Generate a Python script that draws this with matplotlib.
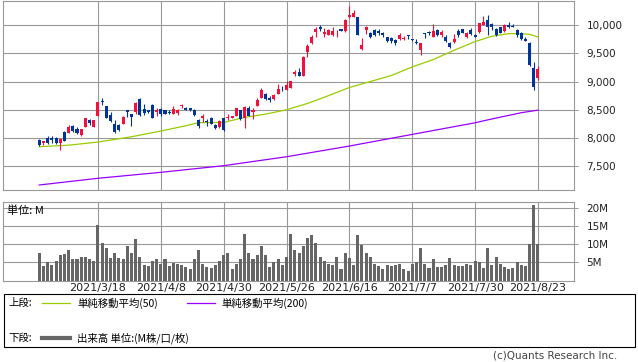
import matplotlib
matplotlib.use('Agg')
import matplotlib.pyplot as plt
from matplotlib.patches import Rectangle
from matplotlib.ticker import FuncFormatter

# fonts: DejaVu for digits, CJK fallback for the japanese labels
plt.rcParams['font.family'] = ['DejaVu Sans', 'Noto Sans CJK JP']
jp_font = ['Noto Sans CJK JP', 'DejaVu Sans']

# ---- data (daily candles, 120 sessions) ----
opens = [7963, 7904, 7998, 7992, 7998, 7904, 8103, 8091, 8208, 8161,
         8045, 8196, 8325, 8196, 8383, 8645, 8558, 8407, 8243, 8231,
         8255, 8488, 8418, 8453, 8699, 8512, 8488, 8582, 8465, 8512,
         8488, 8465, 8430, 8442, 8575, 8535, 8523, 8500, 8313, 8360,
         8301, 8354, 8230, 8195, 8348, 8360, 8360, 8395, 8490, 8348,
         8525, 8466, 8572, 8702, 8773, 8714, 8690, 8785, 8891, 8855,
         8891, 9139, 9162, 9103, 9528, 9693, 9882, 9964, 9846, 9834,
         9835, 9876, 9929, 9905, 10142, 10153, 10142, 9587, 9917, 9869,
         9917, 9905, 9869, 9786, 9774, 9738, 9750, 9750, 9821, 9750,
         9702, 9560, 9857, 9881, 9798, 9917, 9821, 9798, 9690, 9702,
         9905, 9929, 9786, 9917, 9833, 9881, 10012, 10095, 10024, 9941,
         9964, 9905, 10012, 9982, 9917, 9869, 9762, 9690, 9238, 9072]
highs = [7980, 7951, 8033, 8033, 8021, 7998, 8126, 8220, 8231, 8185,
         8160, 8360, 8336, 8325, 8645, 8710, 8570, 8465, 8313, 8243,
         8383, 8500, 8430, 8640, 8710, 8605, 8500, 8594, 8535, 8523,
         8500, 8488, 8558, 8512, 8605, 8547, 8535, 8512, 8336, 8431,
         8336, 8372, 8242, 8325, 8360, 8431, 8390, 8535, 8500, 8572,
         8560, 8537, 8702, 8879, 8796, 8737, 8785, 8962, 8914, 9009,
         9015, 9209, 9245, 9450, 9670, 9835, 9964, 10000, 9953, 9935,
         9964, 9917, 9941, 10106, 10342, 10271, 10150, 9776, 9988, 9881,
         9929, 9929, 9881, 9798, 9798, 9750, 9857, 9810, 9833, 9762,
         9750, 9690, 9869, 9905, 10024, 9941, 9917, 9821, 9702, 9845,
         9929, 9941, 9881, 9952, 9845, 10048, 10167, 10178, 10036, 9952,
         9976, 10024, 10060, 10024, 9929, 9881, 9786, 9702, 9345, 9286]
lows = [7852, 7869, 7893, 7916, 7893, 7788, 7939, 8080, 8103, 8068,
        8040, 8185, 8220, 8185, 8380, 8582, 8348, 8278, 8091, 8115,
        8243, 8372, 8208, 8430, 8395, 8407, 8442, 8348, 8395, 8395,
        8418, 8418, 8418, 8407, 8523, 8488, 8477, 8395, 8183, 8289,
        8218, 8242, 8159, 8183, 8124, 8324, 8354, 8390, 8324, 8183,
        8384, 8336, 8560, 8702, 8678, 8643, 8678, 8785, 8832, 8843,
        8885, 9091, 9103, 9100, 9434, 9670, 9800, 9894, 9800, 9820,
        9811, 9800, 9894, 9882, 10130, 10142, 9830, 9563, 9846, 9774,
        9810, 9833, 9798, 9702, 9690, 9643, 9738, 9738, 9750, 9714,
        9667, 9476, 9774, 9821, 9786, 9810, 9798, 9702, 9595, 9690,
        9798, 9857, 9774, 9821, 9786, 9869, 10000, 9821, 9917, 9810,
        9857, 9881, 9952, 9964, 9798, 9738, 9714, 9286, 8857, 9024]
closes = [7869, 7939, 7916, 7963, 7916, 7986, 7951, 8185, 8115, 8080,
          8150, 8348, 8266, 8313, 8640, 8635, 8360, 8301, 8103, 8138,
          8372, 8453, 8372, 8617, 8407, 8442, 8453, 8360, 8500, 8418,
          8430, 8442, 8512, 8500, 8582, 8500, 8488, 8407, 8206, 8384,
          8289, 8254, 8171, 8301, 8136, 8372, 8384, 8525, 8336, 8549,
          8395, 8490, 8666, 8843, 8690, 8667, 8761, 8867, 8879, 8938,
          9009, 9174, 9103, 9445, 9634, 9800, 9941, 9929, 9882, 9917,
          9905, 9882, 9905, 10094, 10189, 10224, 9835, 9658, 9965, 9786,
          9821, 9857, 9833, 9714, 9714, 9679, 9833, 9774, 9810, 9732,
          9679, 9679, 9845, 9869, 9893, 9821, 9881, 9726, 9607, 9750,
          9821, 9869, 9869, 9845, 9798, 10036, 10059, 9976, 9964, 9833,
          9869, 10000, 9964, 9970, 9821, 9750, 9726, 9298, 8905, 9215]

# volume in millions of shares
volume = [7.7, 4.1, 5.0, 4.3, 5.5, 6.9, 7.2, 8.3, 5.8, 6.0,
          6.6, 6.6, 5.8, 5.5, 15.3, 10.3, 8.9, 6.3, 7.7, 6.3,
          6.0, 9.4, 7.5, 11.4, 6.6, 4.3, 4.1, 5.5, 6.0, 4.6,
          6.0, 4.1, 4.9, 4.6, 4.3, 3.8, 3.2, 5.8, 8.3, 4.6,
          3.8, 3.5, 4.3, 5.5, 6.9, 7.7, 3.2, 4.6, 5.8, 12.8,
          7.5, 6.0, 6.9, 9.4, 6.9, 3.8, 5.2, 6.0, 4.3, 6.6,
          12.8, 8.3, 7.7, 9.4, 11.7, 12.5, 10.3, 6.6, 5.5, 4.6,
          4.3, 6.6, 3.2, 7.5, 6.3, 4.3, 12.5, 9.7, 7.7, 6.6,
          4.6, 4.1, 3.2, 4.3, 4.1, 4.3, 4.6, 3.2, 2.6, 4.6,
          5.2, 8.9, 4.6, 3.5, 5.8, 3.8, 3.8, 4.3, 6.3, 4.3,
          4.1, 4.1, 4.6, 4.3, 5.5, 5.2, 3.5, 8.9, 4.3, 6.6,
          4.6, 3.8, 3.2, 3.5, 5.2, 4.3, 4.1, 10.0, 20.8, 10.0]

# moving averages, read at a handful of sessions
ma50_idx = [0, 7, 14, 22, 29, 35, 38, 44, 49, 54, 59, 64, 67, 74, 79,
            84, 89, 94, 99, 104, 108, 112, 115, 117, 119]
ma50 = [7843, 7870, 7926, 8020, 8122, 8216, 8270, 8275, 8364, 8422, 8500,
        8612, 8693, 8895, 9001, 9108, 9261, 9391, 9557, 9711, 9805, 9852,
        9850, 9840, 9793]
ma200_idx = [0, 14, 29, 44, 59, 67, 74, 89, 104, 107, 115, 119]
ma200 = [7163, 7282, 7388, 7506, 7665, 7766, 7855, 8062, 8268, 8320, 8447, 8493]

# date labels on the x axis (session index -> label)
tick_idx = [14, 29, 44, 59, 74, 89, 104, 119]
tick_labels = ['2021/3/18', '2021/4/8', '2021/4/30', '2021/5/26',
               '2021/6/16', '2021/7/7', '2021/7/30', '2021/8/23']
price_ticks = [7500, 8000, 8500, 9000, 9500, 10000]
vol_ticks = [5, 10, 15, 20]

RED = '#f5103c'
BLUE = '#00349a'
GRID = '#999999'

W, H = 638, 362
fig = plt.figure(figsize=(W / 100, H / 100), dpi=100)

# panel placement in pixels (left, top, right, bottom)
def px_axes(l, t, r, b):
    return fig.add_axes([l / W, 1 - b / H, (r - l) / W, (b - t) / H])

ax = px_axes(3, 1, 574, 190)
vax = px_axes(3, 201.5, 574, 280.5)

xs = list(range(len(closes)))
xlim = (-8.66, 127.6)

# ---- candles ----
colors = [RED if c >= o else BLUE for o, c in zip(opens, closes)]
ax.vlines(xs, lows, highs, colors=colors, linewidth=0.8, zorder=3)
bottoms = [min(o, c) for o, c in zip(opens, closes)]
heights = [max(abs(c - o), 14) for o, c in zip(opens, closes)]
ax.bar(xs, heights, bottom=bottoms, width=0.72, color=colors, linewidth=0, zorder=4)

ax.plot(ma50_idx, ma50, color='#99cc00', linewidth=0.9, zorder=2)
ax.plot(ma200_idx, ma200, color='#9900ff', linewidth=0.9, zorder=2)

ax.set_xlim(*xlim)
ax.set_ylim(7074, 10432)
ax.set_xticks(tick_idx)
ax.set_yticks(price_ticks)
ax.yaxis.set_major_formatter(FuncFormatter(lambda v, p: f'{int(v):,}'))
ax.yaxis.tick_right()
ax.tick_params(axis='y', length=3, width=0.75, color=GRID, labelsize=7.5, pad=6,
               labelcolor='#222222')
ax.tick_params(axis='x', length=0, labelbottom=False)
ax.grid(True, color=GRID, linewidth=0.8)
ax.set_axisbelow(True)
for s in ax.spines.values():
    s.set_color(GRID)
    s.set_linewidth(0.8)

# ---- volume ----
vax.bar(xs, volume, width=0.72, color='#666666', linewidth=0, zorder=3)
vax.set_xlim(*xlim)
vax.set_ylim(0, 21.8)
vax.set_xticks(tick_idx)
vax.set_xticklabels(tick_labels, fontsize=8, color='#222222')
vax.set_yticks(vol_ticks)
vax.set_yticklabels([f'{v}M' for v in vol_ticks])
vax.yaxis.tick_right()
vax.tick_params(axis='y', length=3, width=0.75, color=GRID, labelsize=7.5, pad=6,
                labelcolor='#222222')
vax.tick_params(axis='x', length=0, pad=1.5)
vax.grid(True, color=GRID, linewidth=0.8)
vax.set_axisbelow(True)
for s in vax.spines.values():
    s.set_color(GRID)
    s.set_linewidth(0.8)
vax.text(4 / 571, 0.88, '単位: M', transform=vax.transAxes, fontsize=8,
         family=jp_font, va='center', ha='left', zorder=5)

# ---- legend box and credit, drawn in pixel space ----
lay = fig.add_axes([0, 0, 1, 1])
lay.set_xlim(0, W)
lay.set_ylim(H, 0)
lay.axis('off')
lay.add_patch(Rectangle((3.5, 293.5), 631, 53, fill=False, edgecolor='black', linewidth=0.8))
lay.text(8, 303, '上段:', fontsize=7.5, family=jp_font, va='center')
lay.plot([42, 70], [303, 303], color='#99cc00', linewidth=0.9)
lay.text(77, 303, '単純移動平均(50)', fontsize=7.5, family=jp_font, va='center')
lay.plot([187, 215], [303, 303], color='#9900ff', linewidth=0.9)
lay.text(221, 303, '単純移動平均(200)', fontsize=7.5, family=jp_font, va='center')
lay.text(8, 338, '下段:', fontsize=7.5, family=jp_font, va='center')
lay.plot([42, 70], [338, 338], color='#666666', linewidth=3.0)
lay.text(77, 338, '出来高 単位:(M株/口/枚)', fontsize=7.5, family=jp_font, va='center')
lay.text(617, 356, '(c)Quants Research Inc.', fontsize=7.5, color='#444444',
         ha='right', va='center')

fig.savefig('out.png', dpi=100)
